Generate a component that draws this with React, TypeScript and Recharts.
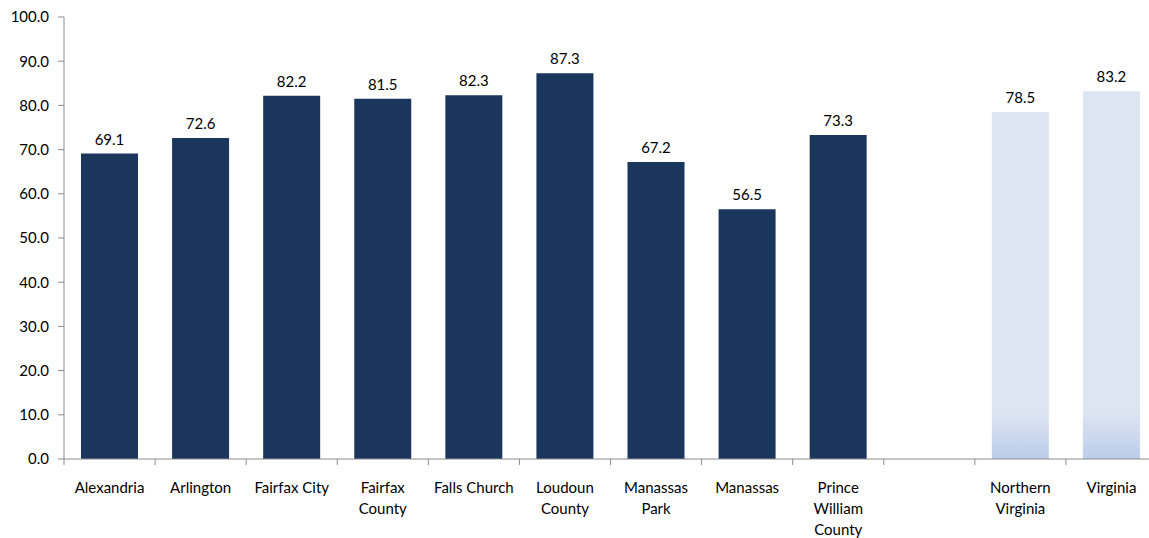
import React from 'react'
import { BarChart, Bar, XAxis, YAxis, Cell, LabelList } from 'recharts'

const categories = [
  'Alexandria',
  'Arlington',
  'Fairfax City',
  'Fairfax\nCounty',
  'Falls Church',
  'Loudoun\nCounty',
  'Manassas\nPark',
  'Manassas',
  'Prince\nWilliam\nCounty',
  '',
  'Northern\nVirginia',
  'Virginia',
]
const values: (number | null)[] = [69.1, 72.6, 82.2, 81.5, 82.3, 87.3, 67.2, 56.5, 73.3, null, 78.5, 83.2]
const isRegion = [false, false, false, false, false, false, false, false, false, false, true, true]
const yTicks = [0, 10, 20, 30, 40, 50, 60, 70, 80, 90, 100]

const data = categories.map((name, i) => ({ name, value: values[i], region: isRegion[i] }))

const FONT = 'Lato, "Noto Sans", sans-serif'
const AXIS = '#8c8c8c'
const SLOT = (1157 - 64) / categories.length

const CategoryTick = (props: any) => {
  const { x, y, payload } = props
  const lines = String(payload.value).split('\n')
  return (
    <g>
      <line x1={x - SLOT / 2} x2={x - SLOT / 2} y1={y - 8} y2={y - 2} stroke={AXIS} strokeWidth={1} />
      <text textAnchor="middle" fontFamily={FONT} fontSize={15} fill="#000">
        {lines.map((l, i) => (
          <tspan key={i} x={x} y={y + 26 + i * 21}>
            {l}
          </tspan>
        ))}
      </text>
    </g>
  )
}

export default function App() {
  return (
    <div style={{ position: 'fixed', left: 0, top: 0, width: 1149, height: 538, overflow: 'hidden', background: '#fff' }}>
      <BarChart
        width={1160}
        height={538}
        data={data}
        margin={{ top: 17, right: 3, left: 0, bottom: 0 }}
        barSize={57}
      >
        <defs>
          <linearGradient id="regionFill" x1="0" y1="412" x2="0" y2="459" gradientUnits="userSpaceOnUse">
            <stop offset="0" stopColor="#dde5f3" />
            <stop offset="1" stopColor="#bccdea" />
          </linearGradient>
        </defs>
        <XAxis
          dataKey="name"
          interval={0}
          height={79}
          axisLine={{ stroke: AXIS }}
          tickLine={false}
          tick={<CategoryTick />}
        />
        <YAxis
          domain={[0, 100]}
          ticks={yTicks}
          width={64}
          axisLine={{ stroke: AXIS }}
          tickLine={{ stroke: AXIS }}
          tickSize={6}
          tickMargin={9}
          tickFormatter={(v: number) => v.toFixed(1)}
          tick={{ fontFamily: FONT, fontSize: 15, fill: '#000' }}
        />
        <Bar dataKey="value" isAnimationActive={false}>
          {data.map((d, i) => (
            <Cell key={i} fill={d.region ? 'url(#regionFill)' : '#1b365d'} />
          ))}
          <LabelList
            dataKey="value"
            position="top"
            offset={9}
            formatter={(v: any) => (v == null ? '' : Number(v).toFixed(1))}
            style={{ fontFamily: FONT, fontSize: 15, fill: '#000' }}
          />
        </Bar>
      </BarChart>
    </div>
  )
}
